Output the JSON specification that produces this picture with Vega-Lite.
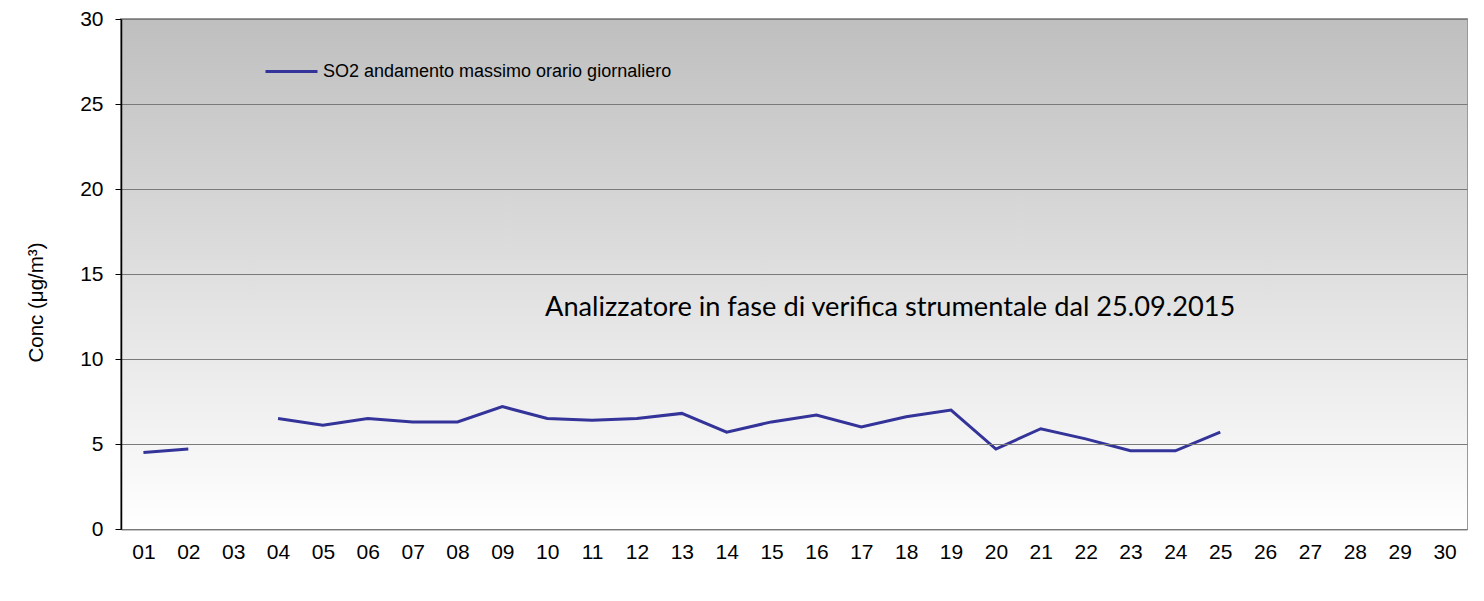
{
  "$schema": "https://vega.github.io/schema/vega-lite/v6.json",
  "width": 1346,
  "height": 510,
  "autosize": {"type": "none"},
  "padding": {"left": 121, "top": 19, "right": 17, "bottom": 72},
  "background": "#ffffff",
  "config": {
    "view": {"stroke": "#999999", "strokeWidth": 2},
    "font": "Liberation Sans"
  },
  "layer": [
    {
      "data": {"values": [{"lo": 0, "hi": 30}]},
      "mark": {
        "type": "rect",
        "color": {
          "gradient": "linear",
          "x1": 0, "y1": 0, "x2": 0, "y2": 1,
          "stops": [
            {"offset": 0, "color": "#bfbfbf"},
            {"offset": 1, "color": "#ffffff"}
          ]
        }
      },
      "encoding": {
        "y": {"field": "lo", "type": "quantitative", "scale": {"domain": [0, 30]}},
        "y2": {"field": "hi"}
      }
    },
    {
      "data": {"values": [
        {"day": "01", "conc": 4.5, "series": "SO2 andamento massimo orario giornaliero"},
        {"day": "02", "conc": 4.7, "series": "SO2 andamento massimo orario giornaliero"},
        {"day": "03", "conc": null, "series": "SO2 andamento massimo orario giornaliero"},
        {"day": "04", "conc": 6.5, "series": "SO2 andamento massimo orario giornaliero"},
        {"day": "05", "conc": 6.1, "series": "SO2 andamento massimo orario giornaliero"},
        {"day": "06", "conc": 6.5, "series": "SO2 andamento massimo orario giornaliero"},
        {"day": "07", "conc": 6.3, "series": "SO2 andamento massimo orario giornaliero"},
        {"day": "08", "conc": 6.3, "series": "SO2 andamento massimo orario giornaliero"},
        {"day": "09", "conc": 7.2, "series": "SO2 andamento massimo orario giornaliero"},
        {"day": "10", "conc": 6.5, "series": "SO2 andamento massimo orario giornaliero"},
        {"day": "11", "conc": 6.4, "series": "SO2 andamento massimo orario giornaliero"},
        {"day": "12", "conc": 6.5, "series": "SO2 andamento massimo orario giornaliero"},
        {"day": "13", "conc": 6.8, "series": "SO2 andamento massimo orario giornaliero"},
        {"day": "14", "conc": 5.7, "series": "SO2 andamento massimo orario giornaliero"},
        {"day": "15", "conc": 6.3, "series": "SO2 andamento massimo orario giornaliero"},
        {"day": "16", "conc": 6.7, "series": "SO2 andamento massimo orario giornaliero"},
        {"day": "17", "conc": 6.0, "series": "SO2 andamento massimo orario giornaliero"},
        {"day": "18", "conc": 6.6, "series": "SO2 andamento massimo orario giornaliero"},
        {"day": "19", "conc": 7.0, "series": "SO2 andamento massimo orario giornaliero"},
        {"day": "20", "conc": 4.7, "series": "SO2 andamento massimo orario giornaliero"},
        {"day": "21", "conc": 5.9, "series": "SO2 andamento massimo orario giornaliero"},
        {"day": "22", "conc": 5.3, "series": "SO2 andamento massimo orario giornaliero"},
        {"day": "23", "conc": 4.6, "series": "SO2 andamento massimo orario giornaliero"},
        {"day": "24", "conc": 4.6, "series": "SO2 andamento massimo orario giornaliero"},
        {"day": "25", "conc": 5.7, "series": "SO2 andamento massimo orario giornaliero"},
        {"day": "26", "conc": null, "series": "SO2 andamento massimo orario giornaliero"},
        {"day": "27", "conc": null, "series": "SO2 andamento massimo orario giornaliero"},
        {"day": "28", "conc": null, "series": "SO2 andamento massimo orario giornaliero"},
        {"day": "29", "conc": null, "series": "SO2 andamento massimo orario giornaliero"},
        {"day": "30", "conc": null, "series": "SO2 andamento massimo orario giornaliero"}
      ]},
      "mark": {"type": "line", "strokeWidth": 3, "invalid": "break-paths-show-domains"},
      "encoding": {
        "x": {
          "field": "day", "type": "ordinal",
          "scale": {"type": "point", "padding": 0.5},
          "axis": {
            "title": null, "labelAngle": 0, "ticks": false, "labelPadding": 12,
            "labelFontSize": 21, "labelColor": "#000000", "labelFont": "Liberation Sans",
            "domainColor": "#888888", "domainWidth": 2, "grid": false
          }
        },
        "y": {
          "field": "conc", "type": "quantitative",
          "scale": {"domain": [0, 30]},
          "axis": {
            "title": "Conc (μg/m³)", "titleFontSize": 20.5, "titleFontWeight": "normal",
            "titleColor": "#000000", "titleFont": "Liberation Sans",
            "titleAngle": -90, "titleX": -85, "titleY": 283, "titleAlign": "center", "titleBaseline": "middle",
            "values": [0, 5, 10, 15, 20, 25, 30], "labelFontSize": 21, "labelColor": "#000000",
            "labelPadding": 12, "tickSize": 6, "tickColor": "#000000", "domainColor": "#000000", "domainWidth": 1.5,
            "grid": true, "gridColor": "#7a7a7a", "gridWidth": 1, "zindex": 1
          }
        },
        "color": {
          "field": "series", "type": "nominal",
          "scale": {"range": ["#333399"]},
          "legend": {
            "title": null, "orient": "none", "legendX": 143, "legendY": 25,
            "symbolType": "stroke", "symbolSize": 2704, "symbolStrokeWidth": 3,
            "labelFontSize": 18, "labelColor": "#000000", "labelOffset": 4, "labelLimit": 1000,
            "labelFont": "Liberation Sans"
          }
        }
      }
    },
    {
      "data": {"values": [{"day": "18", "conc": 13.0, "note": "Analizzatore in fase di verifica strumentale dal 25.09.2015"}]},
      "mark": {"type": "text", "font": "Lato", "fontSize": 27.2, "color": "#000000", "align": "center", "baseline": "middle", "dx": -16},
      "encoding": {
        "x": {"field": "day", "type": "ordinal"},
        "y": {"field": "conc", "type": "quantitative"},
        "text": {"field": "note"}
      }
    }
  ]
}
